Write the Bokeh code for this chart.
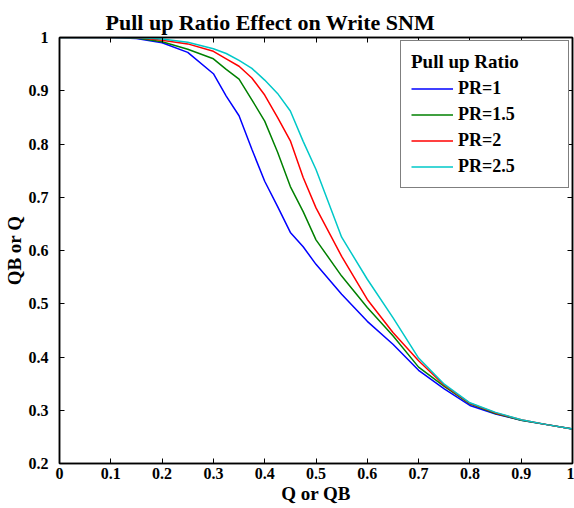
from bokeh.plotting import figure
from bokeh.models import Range1d, LinearAxis, FixedTicker, Legend, LegendItem
from bokeh.embed import file_html
from bokeh.resources import INLINE

# ---- data ----
x_vals = [0.0, 0.05, 0.1, 0.15, 0.2, 0.25, 0.3, 0.325, 0.35, 0.375, 0.4, 0.425, 0.45,
          0.475, 0.5, 0.55, 0.6, 0.65, 0.7, 0.75, 0.8, 0.85, 0.9, 0.95, 1.0]
pr1 = [1.0, 1.0, 1.0, 0.998, 0.99, 0.972, 0.932, 0.89, 0.853, 0.79, 0.73, 0.683, 0.634,
       0.607, 0.574, 0.518, 0.467, 0.424, 0.375, 0.34, 0.309, 0.293, 0.281, 0.273, 0.265]
pr15 = [1.0, 1.0, 1.0, 0.999, 0.992, 0.978, 0.96, 0.94, 0.922, 0.883, 0.843, 0.785, 0.72,
        0.673, 0.62, 0.552, 0.493, 0.44, 0.381, 0.345, 0.312, 0.294, 0.281, 0.273, 0.265]
pr2 = [1.0, 1.0, 1.0, 1.0, 0.995, 0.988, 0.974, 0.96, 0.946, 0.924, 0.892, 0.85, 0.806,
       0.737, 0.68, 0.589, 0.508, 0.446, 0.393, 0.347, 0.313, 0.295, 0.282, 0.273, 0.265]
pr25 = [1.0, 1.0, 1.0, 1.0, 0.997, 0.991, 0.979, 0.97, 0.957, 0.942, 0.92, 0.895, 0.862,
        0.805, 0.752, 0.625, 0.546, 0.474, 0.398, 0.349, 0.314, 0.296, 0.282, 0.273, 0.265]

series_names = ["PR=1", "PR=1.5", "PR=2", "PR=2.5"]
series_values = [pr1, pr15, pr2, pr25]
series_colors = ["#0000FF", "#008000", "#FF0000", "#00C8C8"]

x_ticks = [0, 0.1, 0.2, 0.3, 0.4, 0.5, 0.6, 0.7, 0.8, 0.9, 1.0]
x_tick_labels = ["0", "0.1", "0.2", "0.3", "0.4", "0.5", "0.6", "0.7", "0.8", "0.9", "1"]
y_ticks = [0.2, 0.3, 0.4, 0.5, 0.6, 0.7, 0.8, 0.9, 1.0]
y_tick_labels = ["0.2", "0.3", "0.4", "0.5", "0.6", "0.7", "0.8", "0.9", "1"]

FONT = "Liberation Serif"

p = figure(width=574, height=506, output_backend="svg", toolbar_location=None,
           x_range=Range1d(0, 1), y_range=Range1d(0.2, 1.0),
           min_border_left=59, min_border_right=2, min_border_top=37, min_border_bottom=43,
           title="Pull up Ratio Effect on Write SNM")
p.title.text_font = FONT
p.title.text_font_size = "22px"
p.title.text_font_style = "bold"
p.title.text_color = "black"
p.title.align = "left"
p.title.offset = 46
p.title.standoff = 6
p.xgrid.visible = False
p.ygrid.visible = False
p.outline_line_color = "black"
p.outline_line_width = 1.5
p.background_fill_color = "white"
p.border_fill_color = "white"

def style_axis(ax, ticks, labels, show_labels):
    ax.ticker = FixedTicker(ticks=ticks)
    if show_labels:
        ax.major_label_overrides = {t: l for t, l in zip(ticks, labels)}
        ax.major_label_text_font_size = "16px"
    else:
        ax.major_label_overrides = {t: "" for t in ticks}
        ax.major_label_text_font_size = "1px"
        ax.major_label_standoff = 0
    ax.major_tick_in = 5
    ax.major_tick_out = 0
    ax.minor_tick_in = 0
    ax.minor_tick_out = 0
    ax.axis_line_color = "black"
    ax.axis_line_width = 1.5
    ax.major_tick_line_color = "black"
    ax.major_label_text_font = FONT
    ax.major_label_text_font_style = "bold"
    ax.major_label_text_color = "black"

xa = p.xaxis[0]
ya = p.yaxis[0]
style_axis(xa, x_ticks, x_tick_labels, True)
style_axis(ya, y_ticks, y_tick_labels, True)
xa.major_label_standoff = 4
ya.major_label_standoff = 11
xa.axis_label = "Q or QB"
ya.axis_label = "QB or Q"
for ax in (xa, ya):
    ax.axis_label_text_font = FONT
    ax.axis_label_text_font_size = "19px"
    ax.axis_label_text_font_style = "bold"
    ax.axis_label_text_color = "black"
    ax.axis_label_standoff = 1

top = LinearAxis()
style_axis(top, x_ticks, x_tick_labels, False)
p.add_layout(top, "above")
right = LinearAxis()
style_axis(right, y_ticks, y_tick_labels, False)
p.add_layout(right, "right")

items = []
for name, vals, col in zip(series_names, series_values, series_colors):
    r = p.line(x_vals, vals, line_color=col, line_width=1.5)
    items.append(LegendItem(label=name, renderers=[r]))

legend = Legend(items=items, location="top_right")
legend.title = "Pull up Ratio"
legend.title_text_font = FONT
legend.title_text_font_style = "bold"
legend.title_text_font_size = "19px"
legend.title_text_color = "black"
legend.title_standoff = 5
legend.label_text_font = FONT
legend.label_text_font_style = "bold"
legend.label_text_font_size = "18px"
legend.label_text_color = "black"
legend.label_height = 19
legend.label_width = 100
legend.glyph_width = 42
legend.glyph_height = 19
legend.spacing = 5
legend.padding = 10
legend.margin = 3
legend.border_line_color = "black"
legend.border_line_width = 1
legend.background_fill_alpha = 1
p.add_layout(legend, "center")

open("out.html", "w").write(file_html(p, INLINE))
